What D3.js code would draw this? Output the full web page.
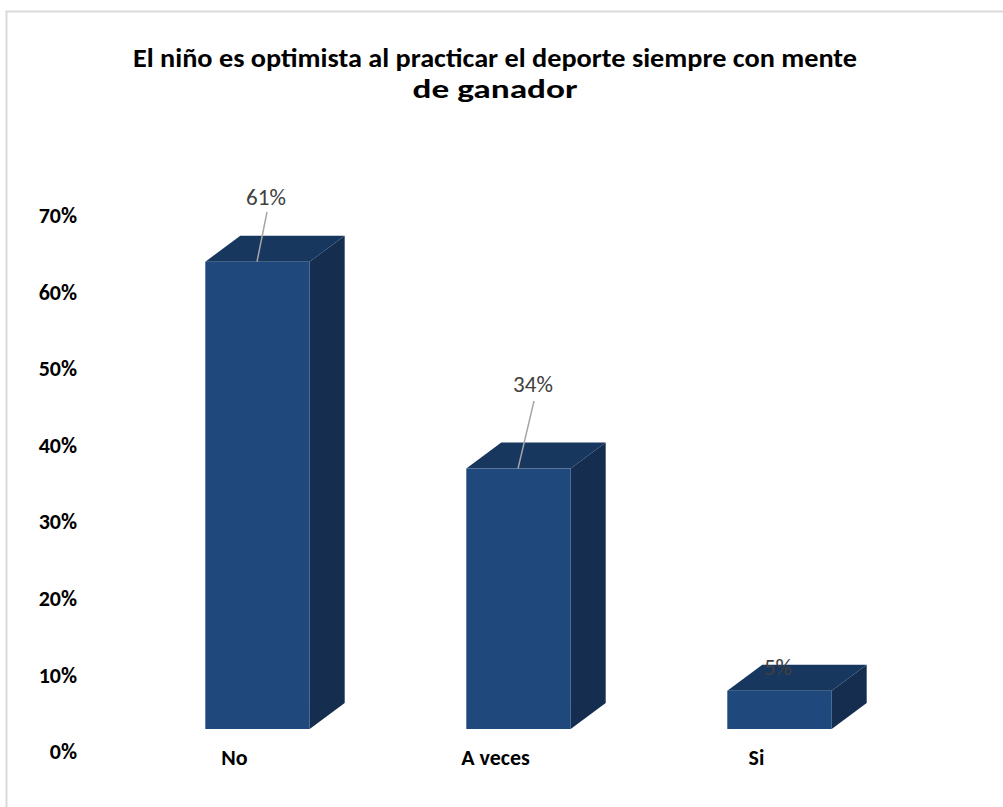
<!DOCTYPE html>
<html><head><meta charset="utf-8">
<script src="https://cdn.jsdelivr.net/npm/d3@7"></script>
<style>body{margin:0;background:#fff}svg{display:block}</style>
</head><body>
<script>
const categories = ["No", "A veces", "Si"];
const values = [0.61, 0.34, 0.05];
const valueLabels = ["61%", "34%", "5%"];
const tickValues = [0, 0.1, 0.2, 0.3, 0.4, 0.5, 0.6, 0.7];
const titleLines = ["El niño es optimista al practicar el deporte siempre con mente", "de ganador"];

const W = 1003, H = 807;
const svg = d3.select("body").append("svg").attr("width", W).attr("height", H);

// chart border
svg.append("rect").attr("x", 6.5).attr("y", 11.5).attr("width", W).attr("height", H)
  .attr("fill", "none").attr("stroke", "#d9d9d9").attr("stroke-width", 2);

const font = "Carlito, Calibri, 'Open Sans', sans-serif";

// title
const tl = svg.append("g");
const tLens = [724, 165];
const tYs = [67, 98];
titleLines.forEach((t, i) => {
  tl.append("text").attr("x", 495).attr("y", tYs[i]).attr("text-anchor", "middle")
    .attr("font-family", font).attr("font-weight", "bold").attr("font-size", 27)
    .attr("fill", "#000").attr("textLength", tLens[i]).attr("lengthAdjust", "spacingAndGlyphs")
    .text(t);
});

const x = d3.scaleBand().domain(categories).range([127, 910]).paddingInner(0.6).paddingOuter(0.3);
const y = d3.scaleLinear().domain([0, 0.7]).range([729, 729 - 0.7 * 766]);
const dx = 35, dy = -26;
const labelShift = 22;

// y axis labels
const yAxis = d3.axisLeft(d3.scaleLinear().domain(y.domain()).range(y.range().map(v => v + labelShift)))
  .tickValues(tickValues).tickFormat(d3.format(".0%")).tickSize(0).tickPadding(0);
const ya = svg.append("g").attr("transform", "translate(77,0)").call(yAxis);
ya.select(".domain").remove();
ya.selectAll("text").attr("font-family", font).attr("font-weight", "bold").attr("font-size", 22)
  .attr("fill", "#000").attr("dy", "0.35em");

// x axis labels
const xa = svg.append("g").attr("transform", "translate(-23,757)")
  .call(d3.axisBottom(x).tickSize(0).tickPadding(0));
xa.select(".domain").remove();
xa.selectAll("text").attr("font-family", font).attr("font-weight", "bold").attr("font-size", 22)
  .attr("fill", "#000").attr("dy", "0.35em");

// bars
const bars = svg.append("g");
categories.forEach((c, i) => {
  const x0 = x(c), x1 = x(c) + x.bandwidth();
  const yt = y(values[i]), yb = y(0);
  const g = bars.append("g");
  g.append("path").attr("d", `M${x1},${yb}L${x1+dx},${yb+dy}L${x1+dx},${yt+dy}L${x1},${yt}Z`).attr("fill", "#152e4f");
  g.append("path").attr("d", `M${x0},${yt}L${x0+dx},${yt+dy}L${x1+dx},${yt+dy}L${x1},${yt}Z`).attr("fill", "#17375e");
  g.append("rect").attr("x", x0).attr("y", yt).attr("width", x1 - x0).attr("height", yb - yt).attr("fill", "#1f497d");
});

// data labels with leader lines
const lblPos = [[266, 197, 267, 212, 257], [533, 384, 534, 401, 518], [778, 667, null]];
const lg = svg.append("g");
categories.forEach((c, i) => {
  const p = lblPos[i];
  if (p[2] !== null) {
    lg.append("line").attr("x1", p[2]).attr("y1", p[3]).attr("x2", p[4]).attr("y2", y(values[i]))
      .attr("stroke", "#a6a6a6").attr("stroke-width", 1.5);
  }
  lg.append("text").attr("x", p[0]).attr("y", p[1]).attr("dy", "0.35em").attr("text-anchor", "middle")
    .attr("font-family", font).attr("font-size", 23).attr("fill", "#404040").text(valueLabels[i]);
});
</script>
</body></html>
